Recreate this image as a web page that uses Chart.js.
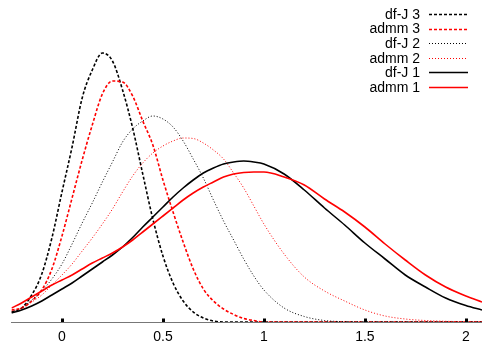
<!DOCTYPE html>
<html>
<head>
<meta charset="utf-8">
<script src="https://cdn.jsdelivr.net/npm/chart.js@4/dist/chart.umd.min.js"></script>
<style>
	html, body { margin: 0; padding: 0; background: #fff; }
	#chart { display: block; }
</style>
</head>
<body>
<canvas id="chart" width="482" height="343"></canvas>
<script>
const xs = [-0.25, -0.2, -0.15, -0.1, -0.05, 0, 0.05, 0.1, 0.15, 0.2, 0.25, 0.3, 0.35, 0.4, 0.45, 0.5,
	0.55, 0.6, 0.65, 0.7, 0.75, 0.8, 0.85, 0.9, 0.95, 1, 1.1, 1.2, 1.3, 1.4, 1.5, 1.6, 1.7, 1.8, 1.9, 2, 2.08];

const dfj3 = [10, 14, 27, 48, 84, 130, 175, 224, 252, 269, 261, 232, 194, 148, 103, 66,
	39, 21, 10, 4, 1, 0, 0, 0, 0, 0, 0, 0, 0, 0, 0, 0, 0, 0, 0, 0, 0];
const admm3 = [12, 14, 21, 32, 53, 86, 124, 162, 197, 228, 241, 240, 226, 201, 177, 142,
	110, 80, 53, 33, 21, 13, 7.5, 3.5, 1.5, 0, 0, 0, 0, 0, 0, 0, 0, 0, 0, 0, 0];
const dfj2 = [10, 14, 22, 31, 43, 58, 78, 99, 119, 140, 160, 180, 193, 201, 206, 203,
	195, 181, 163, 144, 122, 101, 82, 63, 46, 32, 14, 5.5, 1.5, 0.3, 0, 0, 0, 0, 0, 0, 0];
const admm2 = [11, 14, 20, 27, 37, 47, 58, 71, 84, 98, 113, 130, 146, 159, 169, 176,
	181, 184, 183.5, 179, 172, 163, 149, 134, 116, 98, 68, 45, 31, 21, 12, 6, 3, 1.5, 0.7, 0.3, 0];
const dfj1 = [9, 12, 16, 21, 27, 33, 39, 46, 53, 60, 67, 75, 84.5, 95, 105, 115,
	125, 134, 142, 149, 154, 158, 160, 161, 160, 158, 148, 132, 114, 97, 79, 63, 47, 35, 24, 16.5, 12];
const admm1 = [14, 19, 25, 31, 37, 42, 47, 53, 59, 64, 69, 75, 82, 90, 98, 106,
	114, 122, 129, 135, 140, 145, 148, 149.5, 150, 150, 145, 137, 123, 110, 95, 78, 62, 47, 35, 26, 20];

const labels = ['df-J 3', 'admm 3', 'df-J 2', 'admm 2', 'df-J 1', 'admm 1'];
const series = [dfj3, admm3, dfj2, admm2, dfj1, admm1];
const colors = ['#000', '#f00', '#000', '#f00', '#000', '#f00'];
const dashes = [[3, 2], [3, 2], [1, 2], [1, 2], [], []];
const widths = [1.6, 1.6, 1, 1, 1.6, 1.6];

const datasets = series.map((ys, i) => ({
	label: labels[i],
	data: ys.map((y, k) => ({ x: xs[k], y: y })),
	borderColor: colors[i],
	borderDash: dashes[i],
	borderWidth: widths[i],
	pointRadius: 0,
	fill: false,
	cubicInterpolationMode: 'monotone',
	order: 6 - i,
}));

// key in the top right corner, text first then the line sample
const keyPlugin = {
	id: 'key',
	afterDraw(chart) {
		const ctx = chart.ctx;
		ctx.save();
		ctx.font = '14px "Liberation Sans", Arial, sans-serif';
		ctx.textAlign = 'right';
		ctx.textBaseline = 'middle';
		for (let i = 0; i < labels.length; i++) {
			const y = 14 + i * 14.6;
			ctx.fillStyle = '#000';
			ctx.fillText(labels[i], 420, y + 1);
			ctx.strokeStyle = colors[i];
			ctx.lineWidth = widths[i];
			ctx.setLineDash(dashes[i]);
			ctx.beginPath();
			ctx.moveTo(429, Math.round(y) + 0.5);
			ctx.lineTo(468, Math.round(y) + 0.5);
			ctx.stroke();
		}
		ctx.restore();
	},
};

// small square tick marks sitting on the base line
const tickPlugin = {
	id: 'tickMarks',
	afterDatasetsDraw(chart) {
		const ctx = chart.ctx;
		const xScale = chart.scales.x;
		const bottom = chart.chartArea.bottom;
		ctx.save();
		ctx.fillStyle = '#000';
		xScale.ticks.forEach((t) => {
			const px = Math.round(xScale.getPixelForValue(t.value));
			ctx.fillRect(px - 1, bottom - 3.5, 3, 3.5);
		});
		ctx.restore();
	},
};

const chart = new Chart(document.getElementById('chart'), {
	type: 'line',
	data: { datasets: datasets },
	options: {
		responsive: false,
		animation: false,
		layout: { padding: { left: 11.5, right: 0, top: 0, bottom: -9 } },
		plugins: {
			legend: { display: false },
			tooltip: { enabled: false },
		},
		scales: {
			x: {
				type: 'linear',
				min: -0.25,
				max: 2.08,
				grid: { display: false, drawTicks: false },
				border: { display: true, color: '#777', dash: [1, 2], width: 1 },
				ticks: {
					stepSize: 0.5,
					includeBounds: false,
					maxRotation: 0,
					padding: 9,
					color: '#000',
					font: { family: '"Liberation Sans", Arial, sans-serif', size: 14, lineHeight: 0.857 },
					callback: (v) => String(v),
				},
			},
			y: {
				display: false,
				min: 0,
				max: 322,
			},
		},
	},
	plugins: [keyPlugin, tickPlugin],
});
</script>
</body>
</html>
